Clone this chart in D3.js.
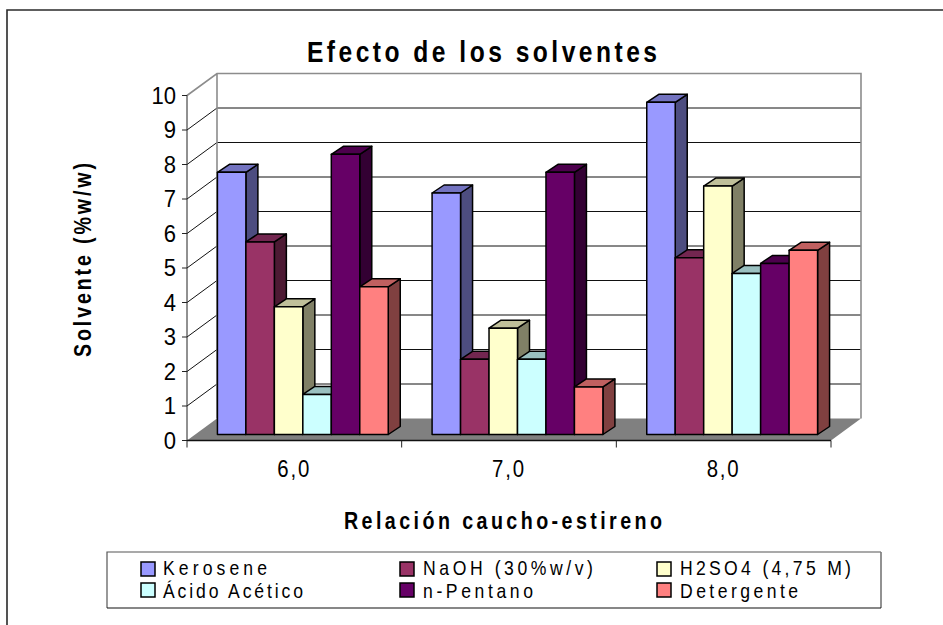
<!DOCTYPE html>
<html>
<head>
<meta charset="utf-8">
<script src="https://cdn.jsdelivr.net/npm/d3@7/dist/d3.min.js"></script>
<style>
html,body{margin:0;padding:0;background:#fff;}
svg{display:block;}
text{font-family:"Liberation Sans",Arial,sans-serif;fill:#000;}
</style>
</head>
<body>
<svg id="chart" width="943" height="625"></svg>
<script>
const categories = ["6,0", "7,0", "8,0"];
const seriesNames = ["Kerosene", "NaOH (30%w/v)", "H2SO4 (4,75 M)", "Ácido Acético", "n-Pentano", "Detergente"];
const kerosene = [7.6, 7.0, 9.63];
const naoh = [5.58, 2.18, 5.12];
const h2so4 = [3.7, 3.08, 7.2];
const acetico = [1.16, 2.18, 4.67];
const pentano = [8.12, 7.6, 4.96];
const detergente = [4.28, 1.38, 5.34];
const seriesValues = [kerosene, naoh, h2so4, acetico, pentano, detergente];
const yTicks = [0, 1, 2, 3, 4, 5, 6, 7, 8, 9, 10];
const frontColors = ["#9999ff", "#993366", "#ffffcc", "#ccffff", "#660066", "#ff8080"];
const topColors = ["#7373c0", "#732650", "#c0c09a", "#9ac0c0", "#4d004d", "#c06060"];
const sideColors = ["#4d4d80", "#4d1a33", "#808066", "#668080", "#330033", "#804040"];

const svg = d3.select("#chart");

// Oblique projection: the back wall is pushed up and right of the front plane.
const depthX = 30, depthY = 22;
const barInsetX = 8.5, barInsetY = 6, barDepthX = 12, barDepthY = 8;

const x = d3.scaleBand().domain(categories).range([187, 831]);
const y = d3.scaleLinear().domain([0, 10]).range([440.5, 95.5]);
const inner = d3.scaleBand().domain(d3.range(seriesNames.length))
  .range([0, x.bandwidth()]).paddingOuter(0.77).paddingInner(0);

const poly = pts => pts.map(p => p.join(",")).join(" ");
const x0 = x.range()[0], x1 = x.range()[1];

// Narrow, widely tracked lettering: glyphs are squeezed horizontally and the
// run is then stretched to a given width with textLength.
function label(parent, s, px, py, size, sx, width, opts = {}) {
  const t = parent.append("text")
    .attr("transform", `translate(${px},${py}) ${opts.rotate ? "rotate(-90) " : ""}scale(${sx},1)`)
    .attr("font-size", size)
    .attr("font-weight", opts.bold ? "bold" : "normal")
    .attr("text-anchor", opts.anchor || "start")
    .text(s);
  if (width) t.attr("textLength", width / sx).attr("lengthAdjust", "spacing");
  return t;
}

// Chart frame: only its top and left edges fall inside the canvas
svg.append("path").attr("d", "M7,625V10H943")
  .attr("fill", "none").attr("stroke", "#2a2a2a").attr("stroke-width", 1.6);

const plot = svg.append("g");

// Back wall gridlines
plot.selectAll("line.grid").data(yTicks.slice(1, -1)).join("line")
  .attr("x1", x0 + depthX).attr("x2", x1 + depthX)
  .attr("y1", d => y(d) - depthY).attr("y2", d => y(d) - depthY)
  .attr("stroke", "#111").attr("stroke-width", 1);

// Diagonal gridlines on the side wall
plot.selectAll("line.side").data(yTicks.slice(1, -1)).join("line")
  .attr("x1", x0).attr("x2", x0 + depthX)
  .attr("y1", d => y(d)).attr("y2", d => y(d) - depthY)
  .attr("stroke", "#111").attr("stroke-width", 1);

// Floor
plot.append("polygon")
  .attr("points", poly([[x0, y(0)], [x0 + depthX, y(0) - depthY], [x1 + depthX, y(0) - depthY], [x1, y(0)]]))
  .attr("fill", "#808080");

// Gray wall outline
plot.append("path")
  .attr("d", `M${x0},${y(10)}L${x0 + depthX},${y(10) - depthY}H${x1 + depthX}V${y(0) - depthY}M${x0 + depthX},${y(10) - depthY}V${y(0) - depthY}`)
  .attr("fill", "none").attr("stroke", "#8c8c8c").attr("stroke-width", 1.6);

// Bars, drawn left to right so each one covers the side of its neighbour
const bars = [];
categories.forEach((c, ci) => seriesValues.forEach((vals, si) => bars.push({ c, si, v: vals[ci] })));
const barG = plot.selectAll("g.bar").data(bars).join("g").attr("class", "bar")
  .attr("stroke", "#000").attr("stroke-width", 1.5).attr("stroke-linejoin", "round");
barG.each(function (d) {
  const g = d3.select(this);
  const l = x(d.c) + inner(d.si) + barInsetX;
  const r = l + inner.bandwidth();
  const b = y(0) - barInsetY;
  const t = y(d.v) - barInsetY;
  g.append("polygon").attr("fill", sideColors[d.si])
    .attr("points", poly([[r, b], [r + barDepthX, b - barDepthY], [r + barDepthX, t - barDepthY], [r, t]]));
  g.append("polygon").attr("fill", topColors[d.si])
    .attr("points", poly([[l, t], [l + barDepthX, t - barDepthY], [r + barDepthX, t - barDepthY], [r, t]]));
  g.append("rect").attr("x", l).attr("y", t).attr("width", r - l).attr("height", b - t)
    .attr("fill", frontColors[d.si]);
});

// Value axis
plot.append("line").attr("x1", x0).attr("x2", x0).attr("y1", y(10)).attr("y2", y(0))
  .attr("stroke", "#222").attr("stroke-width", 1);
plot.selectAll("line.ytick").data(yTicks).join("line")
  .attr("x1", x0 - 5).attr("x2", x0).attr("y1", d => y(d)).attr("y2", d => y(d))
  .attr("stroke", "#222");
yTicks.forEach(v => label(plot, String(v), 176, y(v) + 8, 24, 0.92, null, { anchor: "end" }));

// Category axis
plot.append("line").attr("x1", x0).attr("x2", x1).attr("y1", y(0)).attr("y2", y(0))
  .attr("stroke", "#111").attr("stroke-width", 1.3);
plot.selectAll("line.xtick").data([...categories.map(c => x(c)), x1]).join("line")
  .attr("x1", d => d).attr("x2", d => d).attr("y1", y(0)).attr("y2", y(0) + 7)
  .attr("stroke", "#222");
categories.forEach(c => label(plot, c, x(c) + x.bandwidth() / 2 - 17, 476.5, 24, 0.85, 32));

// Titles
label(svg, "Efecto de los solventes", 307, 62, 30, 0.82, 350, { bold: true });
label(svg, "Relación caucho-estireno", 344, 529, 24, 0.82, 318, { bold: true });
label(svg, "Solvente (%w/w)", 91, 357, 24, 0.82, 194, { bold: true, rotate: true });

// Legend
const legendX = [141, 400, 657], legendRowTop = [562, 583], legendBaseline = [574.5, 597.5];
const legendTextX = [163, 423, 680];
const legendWidths = [104, 170, 171, 140, 110, 118];
const legend = svg.append("g");
legend.append("rect").attr("x", 107).attr("y", 552).attr("width", 774).attr("height", 56)
  .attr("fill", "#fff").attr("stroke", "none");
legend.append("path").attr("d", "M107,608V552H881").attr("fill", "none").attr("stroke", "#555").attr("stroke-width", 1.2);
legend.append("path").attr("d", "M881,552V608").attr("fill", "none").attr("stroke", "#777").attr("stroke-width", 1.6);
legend.append("path").attr("d", "M107,608H881").attr("fill", "none").attr("stroke", "#111").attr("stroke-width", 1.2);
seriesNames.forEach((name, i) => {
  const col = i % 3, row = Math.floor(i / 3);
  legend.append("rect").attr("x", legendX[col]).attr("y", legendRowTop[row]).attr("width", 14).attr("height", 14)
    .attr("fill", frontColors[i]).attr("stroke", "#000").attr("stroke-width", 1.5);
  label(legend, name, legendTextX[col], legendBaseline[row], 20, 0.88, legendWidths[i]);
});
</script>
</body>
</html>
